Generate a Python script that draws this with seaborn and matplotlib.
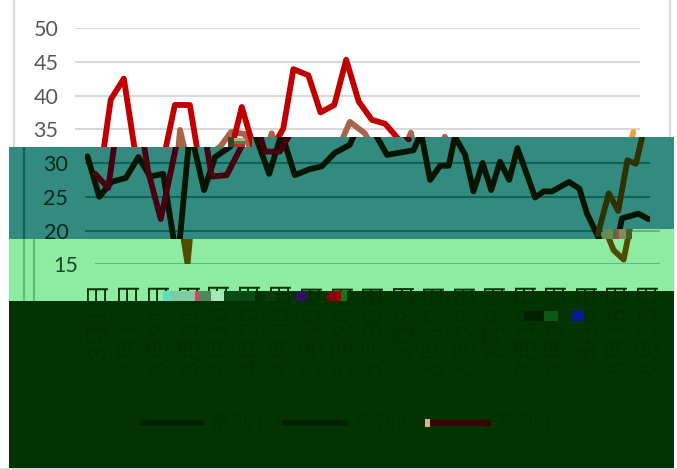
import matplotlib
matplotlib.use('Agg')
import matplotlib.pyplot as plt
import pandas as pd
import seaborn as sns
from matplotlib.lines import Line2D
from matplotlib.patches import Polygon, Rectangle
from matplotlib.transforms import Affine2D, ScaledTranslation

brown_x = [0.06, 0.45, 0.85, 1.32, 1.73, 2.11, 2.54, 3.01, 3.42, 3.88, 4.24, 4.73, 5.09, 5.54,
           6.01, 6.42, 6.85, 7.34, 7.73, 8.16, 8.65, 8.98, 9.47, 9.87, 10.74, 10.98, 11.28,
           11.61, 11.89, 12.09, 12.43, 12.70, 13.00, 13.28, 13.57, 13.87, 14.14, 14.72, 15.00,
           15.27, 15.83, 16.17, 16.41, 16.80, 16.96, 17.29, 17.56, 18.10, 18.43]
brown_y = [31.0, 25.0, 27.2, 27.8, 30.9, 28.0, 28.4, 15.1, 34.9, 26.0, 30.9, 32.4, 34.6, 34.3,
           28.4, 34.4, 28.2, 29.1, 29.5, 31.5, 32.7, 36.1, 34.4, 31.2, 31.9, 34.5, 27.5,
           29.6, 29.6, 33.9, 31.2, 25.8, 30.0, 26.0, 30.2, 27.5, 32.2, 24.9, 25.8,
           25.8, 27.2, 26.2, 22.6, 18.9, 17.1, 15.7, 21.8, 22.5, 21.7]
red_x = [0.31, 0.74, 1.15, 1.58, 2.04, 2.46, 3.25, 3.74, 4.13, 4.62, 5.14, 5.44, 5.87, 6.36,
         6.80, 7.13, 7.62, 8.02, 8.47, 8.86, 9.27, 9.70, 10.14, 10.58]
red_y = [28.4, 26.3, 39.4, 42.5, 28.9, 21.7, 38.6, 38.6, 28.0, 28.2, 32.8, 38.3, 31.7, 31.7,
         35.1, 43.9, 43.0, 37.5, 38.6, 45.3, 39.1, 36.4, 35.8, 33.5]
orange_x = [16.77, 17.13, 17.44, 17.74, 18.02, 18.26]
orange_y = [19.4, 25.5, 22.9, 30.4, 29.9, 34.6]

# legend text and dates are too dark to read in the picture, these are estimates
series_names = ['系列1', '系列2', '系列3']
date_labels = ['3月1日', '3月11日', '3月21日', '3月31日', '4月10日', '4月20日', '4月30日',
               '5月10日', '5月20日', '5月30日', '6月9日', '6月19日', '6月29日', '7月9日',
               '7月19日', '7月29日', '8月8日', '8月18日', '8月28日']
W, H = 677, 470
LINE_W = 4.2

sns.set_theme(style='white')
plt.rcParams['font.family'] = ['Lato', 'Noto Sans CJK SC', 'DejaVu Sans']

fig = plt.figure(figsize=(W / 100, H / 100), dpi=100, facecolor='white')
# picture pixels (y down) to figure
px = Affine2D().scale(1 / W, -1 / H).translate(0, 1) + fig.transFigure

# the picture is cut into horizontal slices, each pushed right and recoloured
bands = [
    dict(poly=[(0, 0), (W, 0), (W, 137), (252, 137), (252, 147), (0, 147)], fill='white', dx=0,
         ticks=[35, 40, 45, 50], grid='#d9d9d9', text='#595959',
         brown='#a9654a', red='#c00000', orange='#efa52b'),
    dict(poly=[(9, 147), (252, 147), (252, 137), (674, 137), (674, 229), (632, 229), (632, 239), (9, 239)],
         fill='#338b7f', dx=10, ticks=[20, 25, 30], grid='#0e6359', text='#08281e',
         brown='#061400', red='#460010', orange='#2c3300'),
    dict(poly=[(9, 239), (632, 239), (632, 229), (674, 229), (674, 291), (224, 291), (224, 301), (9, 301)],
         fill='#8deca1', dx=20, ticks=[15, 20], grid='#64b97a', text='#14482a',
         brown='#4f4c00', red='#460010', orange='#3c4400'),
]
dark = Polygon([(9, 301), (224, 301), (224, 291), (674, 291), (674, 468), (9, 468)],
               transform=px, facecolor='#023300', edgecolor='none', zorder=-2)
fig.add_artist(dark)
fig.add_artist(Rectangle((0, 468), W, 2, transform=px, facecolor='#d8d8e8', edgecolor='none', zorder=-2))

for b in bands:
    patch = Polygon(b['poly'], transform=px, facecolor=b['fill'], edgecolor='none', zorder=-2)
    fig.add_artist(patch)

    # frame lines of the chart, they move with the slice
    for fx in [14 + b['dx']] + ([24] if b['dx'] == 20 else []) + ([670] if b['dx'] == 0 else []):
        v = Line2D([fx, fx], [0, H], transform=px, color=b['grid'], lw=1.5, zorder=-1)
        fig.add_artist(v)
        v.set_clip_path(patch)

    ax = fig.add_axes([(75 + b['dx']) / W, 1 - 264.3 / H, 565 / W, (264.3 - 28) / H])
    ax.patch.set_visible(False)
    sns.lineplot(data=pd.DataFrame({'x': brown_x, 'y': brown_y}), x='x', y='y', ax=ax, sort=False,
                 estimator=None, color=b['brown'], linewidth=LINE_W, zorder=3)
    sns.lineplot(data=pd.DataFrame({'x': orange_x, 'y': orange_y}), x='x', y='y', ax=ax, sort=False,
                 estimator=None, color=b['orange'], linewidth=LINE_W, zorder=4)
    sns.lineplot(data=pd.DataFrame({'x': red_x, 'y': red_y}), x='x', y='y', ax=ax, sort=False,
                 estimator=None, color=b['red'], linewidth=LINE_W, zorder=5)
    ax.set_xlim(-0.02, 18.48)
    ax.set_ylim(15, 50)
    ax.set_xlabel('')
    ax.set_ylabel('')
    sns.despine(ax=ax, left=True, bottom=True)
    ax.set_yticks(b['ticks'])
    ax.set_yticklabels(['' if (t == 20 and b['dx'] == 20) else str(t) for t in b['ticks']],
                       fontsize=15.5, color=b['text'])
    ax.tick_params(axis='y', length=0, pad=12)
    ax.grid(axis='y', color=b['grid'], lw=1.5, zorder=1)
    ax.set_axisbelow(True)
    for art in ax.get_lines() + ax.get_ygridlines():
        art.set_clip_path(patch)

    if b['dx'] == 20:
        ax.set_xticks(range(len(date_labels)))
        ax.set_xticklabels(date_labels, rotation=90, fontsize=18, color='#012f00', va='top', ha='center')
        ax.tick_params(axis='x', length=0, pad=12)
        # CJK glyphs sit a little left of the tick once rotated
        for lab in ax.get_xticklabels():
            lab.set_transform(lab.get_transform() + ScaledTranslation(2 / 72, 0, fig.dpi_scale_trans))
        handles = [Line2D([], [], color=c, lw=LINE_W) for c in ['#012200', '#012200', '#3a0008']]
        ax.legend(handles, series_names, ncol=3, frameon=False, fontsize=16, labelcolor='#012f00',
                  loc='center left', bbox_to_anchor=(142 / W, 1 - 424 / H), bbox_transform=fig.transFigure,
                  handlelength=2.7, handletextpad=0.3, columnspacing=0.85, borderpad=0, borderaxespad=0)
    else:
        ax.set_xticks([])

# blocks of broken pixels along the slice edges
glitch = [(228, 137, 6, 10, '#40402a'), (234, 138, 11, 3, '#c9a08a'), (234, 141, 11, 3, '#3e8a3a'),
          (234, 144, 11, 3, '#b03030'), (603, 229, 10, 10, '#6b8a50'), (613, 229, 3, 10, '#2e7d4f'),
          (616, 229, 3, 10, '#c04040'), (619, 229, 7, 10, '#7a9060'), (626, 229, 6, 10, '#4a5a20'),
          (163, 291, 8, 10, '#5fdcc0'), (171, 291, 24, 10, '#7ecba5'), (195, 291, 4, 10, '#e04060'),
          (199, 291, 12, 10, '#4b8a5a'), (211, 291, 13, 10, '#a8e8b8'), (224, 291, 31, 10, '#0a4a14'),
          (265, 291, 11, 10, '#0a3a10'), (296, 291, 11, 10, '#301060'), (327, 291, 10, 10, '#8a0010'),
          (337, 291, 4, 10, '#b00000'), (341, 291, 6, 10, '#0a7a1a'), (524, 311, 20, 10, '#012000'),
          (544, 311, 14, 10, '#0b5a14'), (572, 311, 12, 10, '#0a1a90'), (425, 419, 5, 8, '#d8b880')]
for gx, gy, gw, gh, gc in glitch:
    fig.add_artist(Rectangle((gx, gy), gw, gh, transform=px, facecolor=gc, edgecolor='none', zorder=6))

plt.savefig('out.png', dpi=100)
plt.close()
